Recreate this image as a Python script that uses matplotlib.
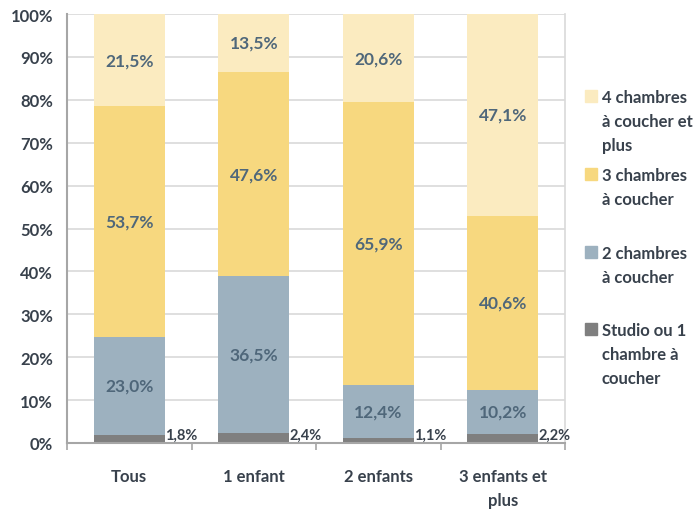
import matplotlib
matplotlib.use("Agg")
import matplotlib.pyplot as plt
from matplotlib.patches import Rectangle
import numpy as np

plt.rcParams['font.family'] = ['Lato', 'DejaVu Sans']

categories = ["Tous", "1 enfant", "2 enfants", "3 enfants et\nplus"]
series_names = ["Studio ou 1\nchambre à\ncoucher", "2 chambres\nà coucher",
                "3 chambres\nà coucher", "4 chambres\nà coucher et\nplus"]
studio = [1.8, 2.4, 1.1, 2.2]
deux = [23.0, 36.5, 12.4, 10.2]
trois = [53.7, 47.6, 65.9, 40.6]
quatre = [21.5, 13.5, 20.6, 47.1]
yticks = [0, 10, 20, 30, 40, 50, 60, 70, 80, 90, 100]

colors = ["#7F7F7F", "#9DB1BF", "#F7D87F", "#FBEBC0"]
label_color = "#4F677A"
text_color = "#38414C"

fig = plt.figure(figsize=(7, 5.1), dpi=100)
ax = fig.add_axes([67/700, 1 - 444/510, (565-67)/700, (444-15)/510])

x = np.arange(len(categories))
width = 0.57
data = [studio, deux, trois, quatre]
bottom = np.zeros(len(categories))
for i, (vals, c) in enumerate(zip(data, colors)):
    vals = np.array(vals)
    ax.bar(x, vals, width, bottom=bottom, color=c, zorder=2)
    for j, v in enumerate(vals):
        lab = f"{v:.1f}%".replace(".", ",")
        if i == 0:
            ax.text(x[j] + width/2 + 0.005, bottom[j] + 2.0, lab, ha='left', va='center',
                    fontsize=10.5, fontweight='bold', color=text_color, zorder=3)
        else:
            ax.text(x[j], bottom[j] + v/2, lab, ha='center', va='center',
                    fontsize=12.5, fontweight='bold', color=label_color, zorder=3)
    bottom = bottom + vals

ax.set_xlim(-0.5, len(categories) - 0.5)
ax.set_ylim(0, 100)
ax.set_yticks(yticks)
ax.set_yticklabels([f"{t}%" for t in yticks])
ax.yaxis.grid(True, color="#D9D9D9", linewidth=1.2, zorder=0)
ax.tick_params(axis='y', length=0, pad=10, labelsize=12, labelcolor=text_color)
for lab in ax.get_yticklabels():
    lab.set_fontweight('bold')

ax.set_xticks(x)
ax.set_xticklabels(categories, fontsize=12, fontweight='bold', color=text_color, linespacing=1.65)
ax.tick_params(axis='x', length=0, pad=18)
ax.set_xticks(np.arange(len(categories) + 1) - 0.5, minor=True)
ax.tick_params(axis='x', which='minor', length=5, color="#A6A6A6", width=1.2, direction='out')

ax.spines['top'].set_visible(False)
ax.spines['left'].set_color("#A6A6A6")
ax.spines['left'].set_linewidth(1.5)
ax.spines['bottom'].set_color("#A6A6A6")
ax.spines['bottom'].set_linewidth(1.5)
ax.spines['right'].set_color("#D9D9D9")
ax.spines['right'].set_linewidth(1.2)

# legend (manual)
leg_tops = [97, 175, 253, 330]
for name, c, ty in zip(series_names[::-1], colors[::-1], leg_tops):
    fig.patches.append(Rectangle((585/700, 1 - (ty + 6)/510), 12/700, 12/510,
                                 transform=fig.transFigure, color=c))
    fig.text(602/700, 1 - (ty - 7)/510, name, ha='left', va='top', fontsize=12,
             fontweight='bold', color=text_color, linespacing=1.6)

fig.savefig("out.png", dpi=100)
